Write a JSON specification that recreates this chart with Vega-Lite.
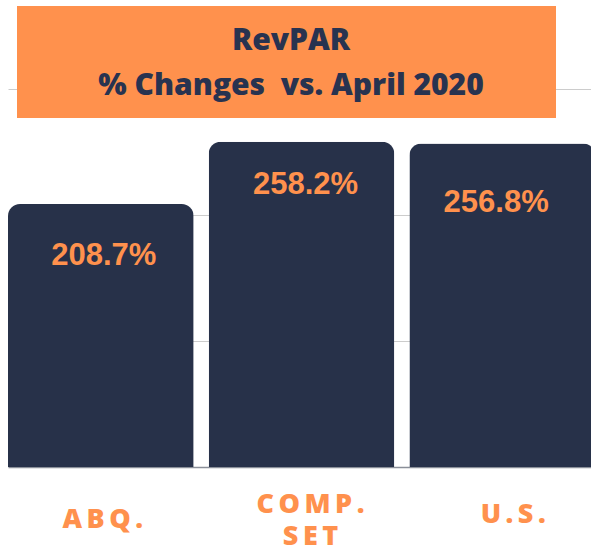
{
  "$schema": "https://vega.github.io/schema/vega-lite/v6.json",
  "width": 587,
  "height": 467,
  "autosize": {"type": "none"},
  "padding": {"left": 8, "top": 0, "right": 0, "bottom": 85},
  "background": "white",
  "config": {"view": {"stroke": null}},
  "data": {"values": [
    {"region": "ABQ.", "change": 208.7},
    {"region": "COMP. SET", "change": 258.2},
    {"region": "U.S.", "change": 256.8}
  ]},
  "encoding": {
    "x": {
      "field": "region", "type": "nominal", "sort": null,
      "scale": {"paddingInner": 0.075, "paddingOuter": 0},
      "axis": {
        "title": null, "ticks": false, "grid": false,
        "domain": true, "domainColor": "#8a8f99", "domainWidth": 1.5,
        "labelAngle": 0,
        "labelExpr": "split(replace(datum.label, regexp('(\\\\S)(?=\\\\S)', 'g'), '$1\u2009'), ' ')",
        "labelFont": "Open Sans", "labelFontWeight": 800, "labelFontSize": 27,
        "labelColor": "#FF914D", "labelBaseline": "middle",
        "labelPadding": {"condition": [{"test": "datum.value == 'COMP. SET'", "value": 37}, {"test": "datum.value == 'U.S.'", "value": 47}], "value": 52},
        "labelOffset": {"condition": [{"test": "datum.value == 'COMP. SET'", "value": 9}, {"test": "datum.value == 'U.S.'", "value": 11}], "value": 2},
        "labelLineHeight": 32.5
      }
    },
    "y": {
      "field": "change", "type": "quantitative",
      "scale": {"domain": [0, 370.6], "nice": false, "zero": true},
      "axis": {"title": null, "labels": false, "ticks": false, "domain": false,
               "values": [100, 200, 300], "gridColor": "#cccccc", "gridWidth": 1}
    }
  },
  "layer": [
    {"mark": {"type": "bar", "color": "#273149", "cornerRadiusTopLeft": 12, "cornerRadiusTopRight": 12}},
    {
      "transform": [{"filter": "datum.region == 'ABQ.'"}, {"calculate": "format(datum.change, '.1f') + '%'", "as": "lbl"}],
      "mark": {"type": "text", "dy": 61, "dx": 3, "baseline": "alphabetic", "font": "Liberation Sans", "fontWeight": "bold", "fontSize": 31, "color": "#FF914D"},
      "encoding": {"text": {"field": "lbl"}}
    },
    {
      "transform": [{"filter": "datum.region == 'COMP. SET'"}, {"calculate": "format(datum.change, '.1f') + '%'", "as": "lbl"}],
      "mark": {"type": "text", "dy": 52, "dx": 4, "baseline": "alphabetic", "font": "Liberation Sans", "fontWeight": "bold", "fontSize": 31, "color": "#FF914D"},
      "encoding": {"text": {"field": "lbl"}}
    },
    {
      "transform": [{"filter": "datum.region == 'U.S.'"}, {"calculate": "format(datum.change, '.1f') + '%'", "as": "lbl"}],
      "mark": {"type": "text", "dy": 69, "dx": -6, "baseline": "alphabetic", "font": "Liberation Sans", "fontWeight": "bold", "fontSize": 31, "color": "#FF914D"},
      "encoding": {"text": {"field": "lbl"}}
    },
    {
      "data": {"values": [{"title": "RevPAR"}]},
      "mark": {"type": "rect", "color": "#FF914D"},
      "encoding": {"x": {"value": 9}, "x2": {"value": 548}, "y": {"value": 6}, "y2": {"value": 118}}
    },
    {
      "data": {"values": [{"title": "RevPAR\n% Changes\u00a0 vs. April 2020"}]},
      "mark": {"type": "text", "lineBreak": "\n", "lineHeight": 45, "baseline": "alphabetic", "align": "center", "font": "Open Sans", "fontWeight": 800, "fontSize": 30, "color": "#283350"},
      "encoding": {"text": {"field": "title"}, "x": {"value": 283}, "y": {"value": 50}}
    }
  ]
}
